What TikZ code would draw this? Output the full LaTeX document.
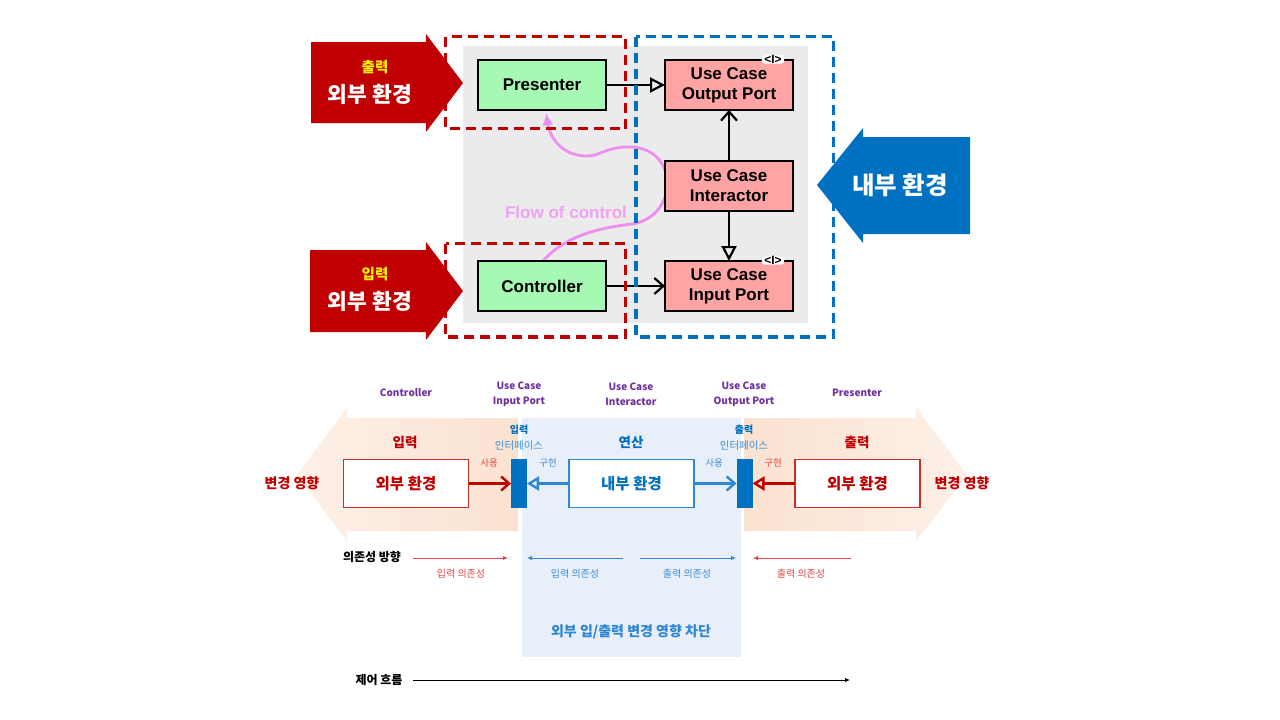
\documentclass[tikz,border=0pt]{standalone}
\usepackage{fontspec}
\setmainfont{Liberation Sans}
\newfontfamily\kr{Noto Sans CJK KR}
\newfontfamily\lib{Liberation Sans}
\usetikzlibrary{arrows.meta,backgrounds}
\newcommand{\myfs}[2]{\fontsize{#1}{#2}\selectfont}
\definecolor{darkred}{HTML}{C00000}
\definecolor{boxred}{HTML}{D42A2A}
\definecolor{lightred}{HTML}{E04848}
\definecolor{mblue}{HTML}{0070C0}
\definecolor{lblue}{HTML}{2F86D2}
\definecolor{lbluetxt}{HTML}{3A8FD6}
\definecolor{topbg}{HTML}{EBEBEB}
\definecolor{boxgreen}{HTML}{A6F8B2}
\definecolor{boxpink}{HTML}{FFA4A4}
\definecolor{flowpink}{HTML}{EE8EEE}
\definecolor{flowtxt}{HTML}{F0A2F0}
\definecolor{peach}{HTML}{FBE2D0}
\definecolor{peachlt}{HTML}{FDF0E8}
\definecolor{paleblue}{HTML}{E9EFF8}
\definecolor{purp}{HTML}{7030A0}
\begin{document}
\begin{tikzpicture}[x=1pt,y=-1pt,
  every node/.style={inner sep=0pt, outer sep=0pt},
  topbox/.style={draw=black, line width=2.4pt, minimum width=128pt, minimum height=50pt, align=center, font=\lib\bfseries\myfs{17}{20}},
  topconn/.style={draw=black, line width=2.2pt},
  opentri/.style={-{Triangle[open,length=15pt,width=15pt]}},
  barbtip/.style={-{Straight Barb[length=9pt,width=16pt]}},
  reddash/.style={draw=darkred, line width=3.5pt, dash pattern=on 10pt off 6pt},
  bluedash/.style={draw=mblue, line width=3.5pt, dash pattern=on 10pt off 6pt},
  stereo/.style={fill=white, rounded corners=3pt, inner xsep=2.5pt, inner ysep=0pt, minimum height=8pt, font=\lib\bfseries\myfs{12}{12}},
  bigwhite/.style={text=white, font=\kr\bfseries\myfs{21.5}{23}},
  botbox/.style={fill=white, line width=1.5pt, minimum width=125pt, minimum height=48pt, font=\kr\bfseries\myfs{15.5}{17}},
  bar/.style={fill=mblue, minimum width=16pt, minimum height=49pt},
  redconn/.style={draw=darkred, line width=2.4pt},
  blueconn/.style={draw=lblue, line width=2.4pt},
  botbarb/.style={-{Straight Barb[length=8pt,width=14pt]}},
  bottri/.style={-{Triangle[open,length=12pt,width=14pt]}},
  purplbl/.style={text=purp, align=center, font=\kr\bfseries\myfs{10}{15}},
  deparrow/.style={line width=1pt, -{Latex[length=5pt,width=4.5pt]}},
  smalllbl/.style={font=\kr\myfs{10}{12}}
]
\useasboundingbox (0,0) rectangle (1280,720);
\fill[white] (0,0) rectangle (1280,720);

% ===== top part =====
\fill[topbg] (463,46) rectangle (808,323);

% red arrow shapes
\fill[darkred] (311,42) -- (426,42) -- (426,34) -- (463,83) -- (426,132) -- (426,123) -- (311,123) -- cycle;
\fill[darkred] (310,250) -- (426,250) -- (426,242) -- (463,291) -- (426,340) -- (426,332) -- (310,332) -- cycle;
\node[text=yellow, font=\kr\bfseries\myfs{14.5}{16}] (outlbl) at (375,67) {출력};
\node[bigwhite] (outext) at (370,94) {외부 환경};
\node[text=yellow, font=\kr\bfseries\myfs{14.5}{16}] (inlbl) at (375,274) {입력};
\node[bigwhite] (inext) at (370,301) {외부 환경};

% blue arrow shape
\fill[mblue] (970,137) -- (863,137) -- (863,128) -- (817,185) -- (863,243) -- (863,234) -- (970,234) -- cycle;
\node[text=white, font=\kr\bfseries\myfs{24.5}{26}] (inner) at (900,185) {내부 환경};

% flow of control
\coordinate (flowstart) at (543,261);
\coordinate (flowend) at (546,113);
\draw[flowpink, line width=2.8pt, -{Latex[length=12pt,width=11pt]}]
  (flowstart) .. controls (565,236) and (598,228) .. (632,224)
  .. controls (678,217) and (680,150) .. (632,147)
  .. controls (606,146) and (600,157) .. (585,156)
  .. controls (562,155) and (550,138) .. (flowend);
\node[text=flowtxt, font=\lib\bfseries\myfs{17}{17}] (flowlbl) at (566,212) {Flow of control};

% boxes
\node[topbox, fill=boxgreen] (pres) at (542,85) {Presenter};
\node[topbox, fill=boxgreen] (ctrl) at (542,286) {Controller};
\node[topbox, fill=boxpink] (outp) at (729,85) {Use Case\\Output Port};
\node[topbox, fill=boxpink] (inter) at (729,186) {Use Case\\Interactor};
\node[topbox, fill=boxpink] (inp) at (729,286) {Use Case\\Input Port};
\node[stereo] (st1) at (773,59.5) {\textless I\textgreater};
\node[stereo] (st2) at (773,260.5) {\textless I\textgreater};

\draw[topconn, opentri] (pres) -- (outp);
\draw[topconn, barbtip] (ctrl) -- (inp);
\draw[topconn, barbtip] (inter) -- (outp);
\draw[topconn, opentri] (inter) -- (inp);

% dashed regions
\draw[reddash] (445.5,36.5) rectangle (625.5,128.5);
\draw[reddash] (445.5,243.5) rectangle (625.5,337);
\draw[bluedash] (636,36.5) rectangle (833.5,337);

% ===== bottom part =====
\shade[left color=peachlt, right color=peach] (518,418) -- (347,418) -- (347,408) -- (297,475) -- (347,541) -- (347,531) -- (518,531) -- cycle;
\shade[left color=peach, right color=peachlt] (744,418) -- (916,418) -- (916,408) -- (967,475) -- (916,541) -- (916,531) -- (744,531) -- cycle;
\fill[paleblue] (522,418) rectangle (741,657);

% column titles
\node[purplbl] (t1) at (406,393) {Controller};
\node[purplbl] (t2) at (519,394) {Use Case\\Input Port};
\node[purplbl] (t3) at (631,394) {Use Case\\Interactor};
\node[purplbl] (t4) at (744,394) {Use Case\\Output Port};
\node[purplbl] (t5) at (857,393) {Presenter};

% section titles
\node[text=darkred, font=\kr\bfseries\myfs{13.5}{15}] (s1) at (405,442) {입력};
\node[text=mblue, font=\kr\bfseries\myfs{13.5}{15}] (s2) at (631,442) {연산};
\node[text=darkred, font=\kr\bfseries\myfs{13.5}{15}] (s3) at (857,442) {출력};
\node[text=mblue, font=\kr\bfseries\myfs{10}{12}] (i1a) at (519,430) {입력};
\node[text=lbluetxt, font=\kr\myfs{10.5}{12}] (i1b) at (519,446) {인터페이스};
\node[text=mblue, font=\kr\bfseries\myfs{10}{12}] (i2a) at (744,430) {출력};
\node[text=lbluetxt, font=\kr\myfs{10.5}{12}] (i2b) at (744,446) {인터페이스};
\node[text=darkred, font=\kr\bfseries\myfs{14}{16}] (ch1) at (292,483) {변경 영향};
\node[text=darkred, font=\kr\bfseries\myfs{14}{16}] (ch2) at (962,483) {변경 영향};

% boxes and bars
\node[botbox, draw=boxred, text=darkred] (lext) at (406,483.5) {외부 환경};
\node[botbox, draw=lblue, text=mblue] (core) at (631.5,483.5) {내부 환경};
\node[botbox, draw=boxred, text=darkred] (rext) at (857.5,483.5) {외부 환경};
\node[bar] (lbar) at (519,483.5) {};
\node[bar] (rbar) at (744.5,483.5) {};

\draw[redconn, botbarb] (lext) -- (lbar);
\draw[blueconn, bottri] (core) -- (lbar);
\draw[blueconn, botbarb] (core) -- (rbar);
\draw[redconn, bottri] (rext) -- (rbar);

\node[text=lightred, font=\kr\myfs{9.5}{11}] (u1) at (489,463) {사용};
\node[text=lbluetxt, font=\kr\myfs{9.5}{11}] (r1) at (548,463) {구현};
\node[text=lbluetxt, font=\kr\myfs{9.5}{11}] (u2) at (714,463) {사용};
\node[text=lightred, font=\kr\myfs{9.5}{11}] (r2) at (773,463) {구현};

% dependency direction
\node[text=black, font=\kr\bfseries\myfs{12}{14}] (depdir) at (372,557) {의존성 방향};
\coordinate (d1s) at (413,558); \coordinate (d1e) at (508,558);
\coordinate (d2s) at (623,558); \coordinate (d2e) at (527,558);
\coordinate (d3s) at (640,558); \coordinate (d3e) at (736,558);
\coordinate (d4s) at (851,558); \coordinate (d4e) at (753,558);
\draw[deparrow, lightred] (d1s) -- (d1e);
\draw[deparrow, lblue] (d2s) -- (d2e);
\draw[deparrow, lblue] (d3s) -- (d3e);
\draw[deparrow, lightred] (d4s) -- (d4e);
\node[text=lightred, smalllbl] (dl1) at (461,574) {입력 의존성};
\node[text=lbluetxt, smalllbl] (dl2) at (575,574) {입력 의존성};
\node[text=lbluetxt, smalllbl] (dl3) at (687,574) {출력 의존성};
\node[text=lightred, smalllbl] (dl4) at (801,574) {출력 의존성};

\node[text=lblue, font=\kr\bfseries\myfs{14}{16}] (block) at (631,632) {외부 입/출력 변경 영향 차단};

% control flow
\node[text=black, font=\kr\bfseries\myfs{12}{14}] (cflow) at (379,680) {제어 흐름};
\coordinate (cf1) at (413,680); \coordinate (cf2) at (850,680);
\draw[deparrow, black] (cf1) -- (cf2);
\end{tikzpicture}
\end{document}
